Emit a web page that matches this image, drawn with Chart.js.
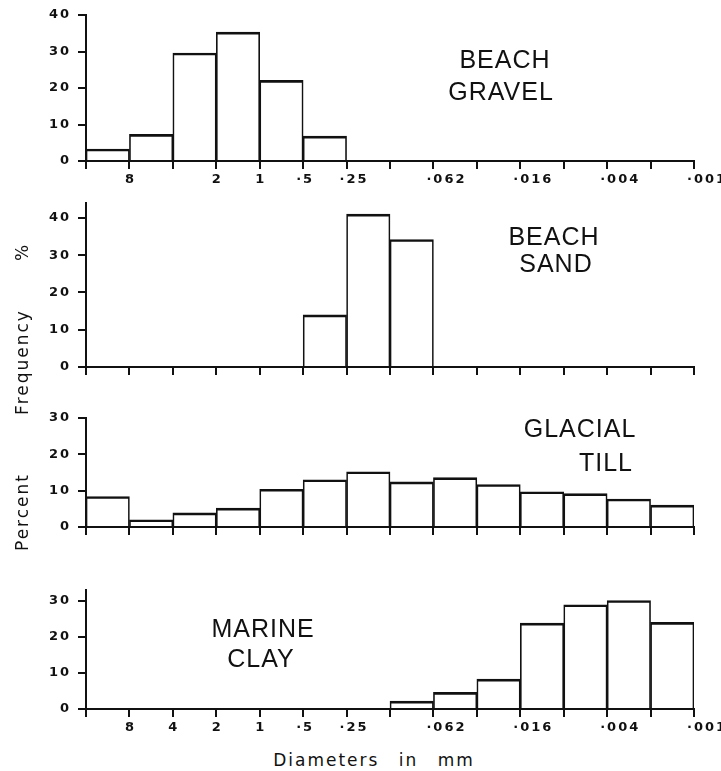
<!DOCTYPE html>
<html>
<head>
<meta charset="utf-8">
<script src="https://cdn.jsdelivr.net/npm/chart.js@4.4.0/dist/chart.umd.min.js"></script>
<style>
  body { margin: 0; background: #fff; width: 721px; height: 771px; position: relative; overflow: hidden; }
  canvas { position: absolute; left: 0; }
  .name { position: absolute; font-family: "Liberation Sans", Arial, sans-serif; font-size: 25px; letter-spacing: 1px;
          transform: translate(-50%, -50%); white-space: nowrap; color: #111; }
  .title { position: absolute; font-family: "DejaVu Sans", sans-serif; font-size: 17px; letter-spacing: 2px;
           white-space: nowrap; color: #111; transform: translate(-50%, -50%); }
  .title.rot { transform: translate(-50%, -50%) rotate(-90deg); }
</style>
</head>
<body>
<canvas id="gravel"></canvas>
<canvas id="sand"></canvas>
<canvas id="till"></canvas>
<canvas id="clay"></canvas>

<div class="title rot" style="left:22px; top:512px;">Percent</div>
<div class="title rot" style="left:22px; top:362px;">Frequency</div>
<div class="title rot" style="left:22px; top:252px;">%</div>
<div class="title" style="left:374px; top:760px; word-spacing:12px;">Diameters in mm</div>

<script>
// size classes, coarse to fine (14 bins between the edges below)
const edgeLabelsTop    = ['', '8', '',  '2', '1', '·5', '·25', '', '·062', '', '·016', '', '·004', '', '·001'];
const edgeLabelsBottom = ['', '8', '4', '2', '1', '·5', '·25', '', '·062', '', '·016', '', '·004', '', '·001'];

// frequency % per bin
const beachGravel = [3.3, 7.3, 29.6, 35.3, 22.1, 6.8, 0, 0, 0, 0, 0, 0, 0, 0];
const beachSand   = [0, 0, 0, 0, 0, 14, 41, 34.2, 0, 0, 0, 0, 0, 0];
const glacialTill = [8.4, 2, 3.9, 5.2, 10.4, 13, 15.2, 12.4, 13.6, 11.7, 9.7, 9.2, 7.7, 6];
const marineClay  = [0, 0, 0, 0, 0, 0, 0, 2.2, 4.6, 8.3, 23.8, 28.9, 30.1, 24];

const yTicks = [0, 10, 20, 30, 40];

// panel layout (page pixels)
const panels = [
  { id: 'gravel', values: beachGravel, ymax: 40, top: 15,  bottom: 161, labels: edgeLabelsTop,
    name: [['BEACH', 505, 59], ['GRAVEL', 501, 91]] },
  { id: 'sand',   values: beachSand,   ymax: 44, top: 203, bottom: 367, labels: null,
    name: [['BEACH', 554, 236], ['SAND', 556, 263]] },
  { id: 'till',   values: glacialTill, ymax: 30, top: 418, bottom: 527, labels: null,
    name: [['GLACIAL', 580, 428], ['TILL', 606, 462]] },
  { id: 'clay',   values: marineClay,  ymax: 33, top: 590, bottom: 709, labels: edgeLabelsBottom,
    name: [['MARINE', 263, 628], ['CLAY', 261, 658]] }
];

const ink = '#111';
const tickFont = { family: '"DejaVu Sans", sans-serif', size: 13, weight: 'bold' };

// x labels sit on bin edges; decimals hang slightly left like the original lettering
const edgeLabelPlugin = {
  id: 'edgeLabels',
  beforeDraw(chart) {
    chart.ctx.letterSpacing = '2px';
  },
  afterDraw(chart, args, opts) {
    if (!opts.labels) return;
    const xs = chart.scales.x;
    const ctx = chart.ctx;
    const y = chart.chartArea.bottom + 19;
    ctx.save();
    ctx.font = 'bold 13px "DejaVu Sans"';
    ctx.letterSpacing = '2px';
    ctx.fillStyle = ink;
    ctx.textBaseline = 'middle';
    opts.labels.forEach((t, i) => {
      if (!t) return;
      const px = xs.getPixelForValue(i);
      if (t.startsWith('·')) {
        ctx.textAlign = 'left';
        ctx.fillText(t, px - 7, y);
      } else {
        ctx.textAlign = 'center';
        ctx.fillText(t, px + 1, y);
      }
    });
    ctx.restore();
  }
};

panels.forEach(p => {
  const canvas = document.getElementById(p.id);
  const canvasTop = p.top - 15;
  canvas.width = 721;
  canvas.height = p.bottom + 30 - canvasTop;
  canvas.style.top = canvasTop + 'px';

  new Chart(canvas, {
    type: 'bar',
    data: {
      datasets: [{
        data: p.values.map((v, i) => ({ x: i + 0.5, y: v })),
        backgroundColor: 'rgba(255,255,255,0)',
        borderColor: ink,
        borderWidth: { top: 2, left: 1, right: 1, bottom: 0 },
        barPercentage: 1,
        categoryPercentage: 1
      }]
    },
    options: {
      responsive: false,
      animation: false,
      devicePixelRatio: 1,
      layout: { padding: { top: 15, right: 27, left: 0, bottom: 0 } },
      plugins: {
        legend: { display: false },
        tooltip: { enabled: false },
        edgeLabels: { labels: p.labels }
      },
      scales: {
        x: {
          type: 'linear',
          min: 0,
          max: 14,
          offset: false,
          afterFit: s => { s.height = 30; },
          ticks: { stepSize: 1, display: false },
          grid: { offset: false, drawOnChartArea: false, drawTicks: true, tickLength: 8, color: ink, lineWidth: 2 },
          border: { display: true, color: ink, width: 2 }
        },
        y: {
          min: 0,
          max: p.ymax,
          afterFit: s => { s.width = 86; },
          afterBuildTicks: s => { s.ticks = yTicks.filter(v => v <= p.ymax).map(v => ({ value: v })); },
          ticks: { color: ink, font: tickFont, padding: 7 },
          grid: { drawOnChartArea: false, drawTicks: true, tickLength: 8, color: ink, lineWidth: 2 },
          border: { display: true, color: ink, width: 2 }
        }
      }
    },
    plugins: [edgeLabelPlugin]
  });

  p.name.forEach(([text, x, y]) => {
    const d = document.createElement('div');
    d.className = 'name';
    d.textContent = text;
    d.style.left = x + 'px';
    d.style.top = y + 'px';
    document.body.appendChild(d);
  });
});
</script>
</body>
</html>
